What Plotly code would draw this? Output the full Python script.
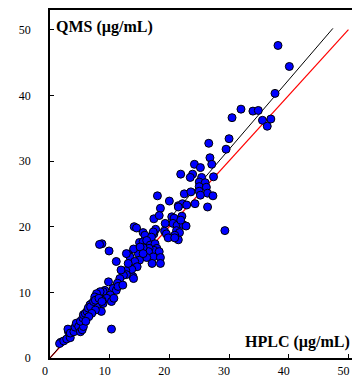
import plotly.graph_objects as go

# HPLC (x) vs QMS (y), µg/mL
hplc = [38.2, 40.1, 37.7, 32.0, 34.0, 34.9, 30.5, 35.6, 37.0, 36.4,
        30.0, 29.5, 26.6, 26.8, 24.2, 25.2, 27.1, 21.9, 23.9, 23.5,
        25.4, 27.4, 25.0, 26.0, 25.0, 26.2, 25.0, 26.4, 25.2, 27.3,
        22.5, 23.6, 18.0, 20.0, 18.5, 21.5, 22.2, 22.9, 21.5, 24.3,
        26.4, 17.4, 18.3, 20.4, 22.1, 20.8, 20.6, 21.3, 22.3, 22.8,
        21.9, 19.3, 17.7, 17.4, 19.2, 21.2, 21.7, 20.9, 19.5, 19.8,
        29.3, 21.5, 20.9, 14.1, 14.5, 15.6, 17.3, 15.9, 17.0, 15.0,
        15.6, 16.2, 16.8, 17.6, 17.9, 17.4, 18.3, 16.6, 16.5, 15.6,
        14.8, 14.0, 15.1, 13.1, 13.4, 12.8, 17.3, 18.5, 17.1, 18.5,
        16.2, 15.0, 14.2, 14.6, 11.1, 9.9, 8.7, 8.3, 13.9, 14.0,
        13.7, 12.7, 12.8, 12.3, 15.6, 13.1, 11.7, 11.3, 9.8, 9.2,
        8.9, 10.6, 11.1, 10.1, 9.5, 8.4, 7.8, 7.5, 8.7, 7.8,
        7.0, 6.7, 8.1, 8.9, 10.3, 10.7, 11.4, 12.2, 11.9, 10.3,
        1.8, 1.6, 2.3, 2.8, 3.4, 3.1, 3.7, 3.0, 3.4, 4.0,
        4.2, 4.4, 4.8, 5.1, 5.4, 5.6, 5.1, 5.5, 5.6, 5.9,
        6.2, 6.4, 6.8, 7.3, 7.6, 8.2, 8.7, 8.6, 7.6, 7.0,
        6.5, 6.0]
qms = [47.6, 44.4, 40.3, 37.9, 37.6, 37.7, 36.6, 36.2, 36.4, 35.3,
       33.4, 31.8, 32.7, 30.5, 29.5, 29.0, 29.5, 28.0, 28.0, 27.5,
       27.5, 27.6, 26.8, 26.7, 26.1, 26.0, 25.4, 25.1, 24.8, 24.7,
       25.0, 25.3, 24.7, 23.9, 22.8, 23.2, 23.5, 23.3, 23.0, 23.5,
       23.0, 21.2, 21.7, 21.5, 21.6, 21.3, 20.5, 20.2, 20.3, 20.1,
       21.0, 20.5, 19.6, 18.9, 19.3, 19.4, 19.1, 18.7, 18.9, 18.3,
       19.4, 18.0, 18.3, 20.0, 19.8, 19.1, 19.2, 18.7, 18.4, 17.6,
       17.7, 17.9, 17.2, 17.4, 16.7, 16.4, 16.2, 16.7, 16.2, 16.8,
       15.9, 16.6, 16.9, 15.8, 15.4, 15.9, 15.4, 15.3, 14.4, 14.4,
       15.3, 14.9, 14.7, 13.9, 14.7, 16.3, 17.4, 17.3, 12.4, 12.1,
       13.5, 13.3, 12.7, 12.6, 15.9, 14.4, 12.1, 11.4, 11.6, 10.3,
       10.1, 10.6, 10.3, 9.6, 9.1, 10.1, 9.8, 9.3, 8.8, 8.6,
       8.3, 8.1, 8.1, 8.3, 8.6, 9.1, 10.9, 11.1, 13.4, 4.4,
       2.4, 2.2, 2.6, 2.9, 3.1, 4.0, 4.3, 4.4, 3.8, 4.0,
       4.7, 5.3, 4.8, 4.0, 4.3, 4.8, 5.6, 6.1, 6.6, 6.8,
       7.1, 7.6, 7.8, 8.6, 8.8, 9.1, 8.6, 7.1, 7.3, 6.8,
       6.3, 5.6]

# Reference lines
fit_x = [0, 47.4]
fit_y = [0, 50.2]
ident_x = [0, 50]
ident_y = [0, 50]

x_ticks = [0, 10, 20, 30, 40, 50]
y_ticks = [0, 10, 20, 30, 40, 50]

FONT = "Liberation Serif"

fig = go.Figure()
fig.add_trace(go.Scatter(x=ident_x, y=ident_y, mode="lines",
                         line=dict(color="#ff0000", width=1.2), hoverinfo="skip"))
fig.add_trace(go.Scatter(x=fit_x, y=fit_y, mode="lines",
                         line=dict(color="#000000", width=1), hoverinfo="skip"))
fig.add_trace(go.Scatter(x=hplc, y=qms, mode="markers",
                         marker=dict(size=8, color="#0000ff",
                                     line=dict(color="#000000", width=1))))

fig.update_layout(
    width=352, height=378,
    margin=dict(l=50, r=0, t=10, b=18),
    paper_bgcolor="white", plot_bgcolor="white",
    showlegend=False,
    font=dict(family=FONT, size=12, color="black"),
    xaxis=dict(range=[0, 50.6], tickvals=x_ticks, ticks="inside", ticklen=4,
               tickwidth=1, tickcolor="black", showline=True, linecolor="black",
               linewidth=1.5, mirror=True, showgrid=False, zeroline=False,
               ticklabelshift=-5, ticklabelstandoff=1,
               tickfont=dict(family=FONT, size=12, color="black")),
    yaxis=dict(range=[0, 53], tickvals=y_ticks, ticks="inside", ticklen=4,
               tickwidth=1, tickcolor="black", showline=True, linecolor="black",
               linewidth=1.5, showgrid=False, zeroline=False,
               ticklabelstandoff=15,
               tickfont=dict(family=FONT, size=12, color="black")),
    annotations=[
        dict(text="<b>QMS (µg/mL)</b>", xref="paper", yref="paper",
             x=0.013, y=0.951, xanchor="left", yanchor="middle",
             showarrow=False, font=dict(family=FONT, size=16, color="black")),
        dict(text="<b>HPLC (µg/mL)</b>", xref="paper", yref="paper",
             x=1.0, y=0.046, xanchor="right", yanchor="middle",
             showarrow=False, font=dict(family=FONT, size=16, color="black")),
    ],
)

fig.write_html("out.html", config={"displayModeBar": False},
               post_script="document.body.style.margin='0';document.body.style.overflow='hidden';")
